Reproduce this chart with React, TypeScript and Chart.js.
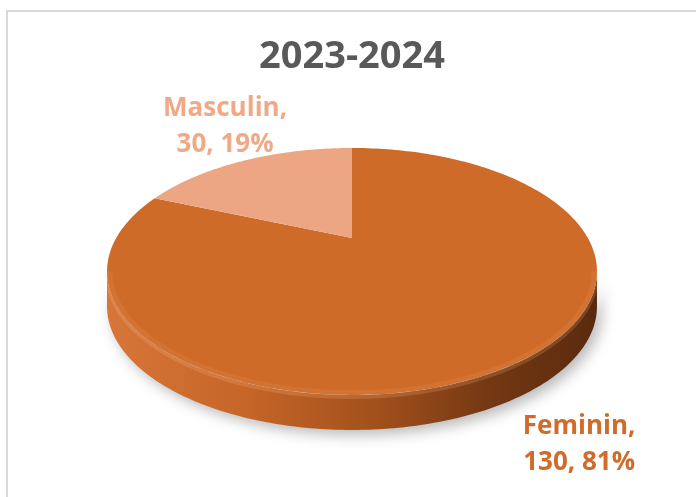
import React, { useEffect, useRef } from 'react';
import { Chart, registerables } from 'chart.js';

Chart.register(...registerables);

// ---- data ----
const categories = ['Feminin', 'Masculin'];
const counts = [130, 30];
const titleText = '2023-2024';

// ---- style ----
const sliceColors = ['#CF6B28', '#EDA684'];
const labelColors = ['#D06C2B', '#F0A987'];
const labelOffsets = [
  [58, 73],
  [-20, -44],
];

// 3D projection style (relative to the pie radius computed by Chart.js)
const A_RATIO = 1.589;
const B_RATIO = 0.771;
const DEPTH_RATIO = 0.236;
const PERSPECTIVE = 0.271;

function proj(cx: number, cy: number, A: number, B: number, ang: number, r = 1): [number, number] {
  const u = Math.cos(ang) * r;
  const v = Math.sin(ang) * r;
  const s = 1 / (1 - PERSPECTIVE * v);
  return [cx + A * u * s, cy + B * v * s];
}

export default function App() {
  const ref = useRef<HTMLCanvasElement>(null);

  useEffect(() => {
    const canvas = ref.current!;
    const total = counts.reduce((a, b) => a + b, 0);

    const pie3d = {
      id: 'pie3d',
      beforeDatasetsDraw(chart: any) {
        const meta = chart.getDatasetMeta(0);
        const arcs = meta.data as any[];
        if (!arcs.length) return;
        const ctx: CanvasRenderingContext2D = chart.ctx;
        const p0 = arcs[0].getProps(['x', 'y', 'outerRadius'], true);
        const cx = p0.x, cy = p0.y, R = p0.outerRadius;
        const A = R * A_RATIO, B = R * B_RATIO, D = R * DEPTH_RATIO;
        const kk = Math.asin(PERSPECTIVE);
        const frontStart = kk;
        const frontEnd = Math.PI - kk;
        const leftX = proj(cx, cy, A, B, frontEnd)[0];
        const rightX = proj(cx, cy, A, B, frontStart)[0];

        // sides
        arcs.forEach((arc) => {
          const p = arc.getProps(['startAngle', 'endAngle'], true);
          const s = p.startAngle, e = p.endAngle;
          const ranges: [number, number][] = [];
          for (const off of [-2 * Math.PI, 0, 2 * Math.PI]) {
            const a = Math.max(s + off, frontStart);
            const b = Math.min(e + off, frontEnd);
            if (b > a) ranges.push([a, b]);
          }
          ranges.forEach(([a, b]) => {
            const N = 160;
            const top: [number, number][] = [];
            for (let i = 0; i <= N; i++) top.push(proj(cx, cy, A, B, a + ((b - a) * i) / N));
            ctx.save();
            ctx.beginPath();
            top.forEach(([x, y], i) => (i ? ctx.lineTo(x, y) : ctx.moveTo(x, y)));
            for (let i = N; i >= 0; i--) ctx.lineTo(top[i][0], top[i][1] + D);
            ctx.closePath();
            const g = ctx.createLinearGradient(leftX, 0, rightX, 0);
            g.addColorStop(0, '#D8763A');
            g.addColorStop(0.3, '#C46427');
            g.addColorStop(0.55, '#A2501C');
            g.addColorStop(0.78, '#743813');
            g.addColorStop(1, '#5A2A0E');
            ctx.fillStyle = g;
            ctx.shadowColor = 'rgba(0,0,0,0.28)';
            ctx.shadowBlur = 14;
            ctx.shadowOffsetX = 5;
            ctx.shadowOffsetY = 5;
            ctx.fill();
            ctx.restore();
            // subtle highlight at top of side
            ctx.save();
            ctx.beginPath();
            top.forEach(([x, y], i) => (i ? ctx.lineTo(x, y + 2) : ctx.moveTo(x, y + 2)));
            ctx.strokeStyle = 'rgba(255,200,150,0.18)';
            ctx.lineWidth = 4;
            ctx.stroke();
            ctx.restore();
          });
        });

        // top faces
        arcs.forEach((arc, idx) => {
          const p = arc.getProps(['startAngle', 'endAngle'], true);
          const N = 240;
          ctx.save();
          ctx.beginPath();
          const c = proj(cx, cy, A, B, 0, 0);
          ctx.moveTo(c[0], c[1]);
          for (let i = 0; i <= N; i++) {
            const [x, y] = proj(cx, cy, A, B, p.startAngle + ((p.endAngle - p.startAngle) * i) / N);
            ctx.lineTo(x, y);
          }
          ctx.closePath();
          ctx.fillStyle = sliceColors[idx];
          ctx.fill();
          ctx.restore();
        });

        // rim bevel on front of top face
        ctx.save();
        ctx.beginPath();
        for (let i = 0; i <= 180; i++) {
          const ang = frontStart + ((frontEnd - frontStart) * i) / 180;
          const [x, y] = proj(cx, cy, A, B, ang, 0.99);
          i ? ctx.lineTo(x, y) : ctx.moveTo(x, y);
        }
        ctx.strokeStyle = 'rgba(255,220,190,0.08)';
        ctx.lineWidth = 5;
        ctx.stroke();
        ctx.restore();

        // labels
        arcs.forEach((arc, idx) => {
          const p = arc.getProps(['startAngle', 'endAngle'], true);
          const mid = (p.startAngle + p.endAngle) / 2;
          const [ax, ay] = proj(cx, cy, A, B, mid);
          const x = ax + labelOffsets[idx][0];
          const y = ay + labelOffsets[idx][1];
          const pct = Math.round((counts[idx] / total) * 100);
          ctx.save();
          ctx.font = 'bold 26px "Open Sans"';
          ctx.fillStyle = labelColors[idx];
          ctx.textAlign = 'center';
          ctx.textBaseline = 'alphabetic';
          ctx.fillText(categories[idx] + ',', x, y);
          ctx.fillText(counts[idx] + ', ' + pct + '%', x, y + 36);
          ctx.restore();
        });
        return false;
      },
    };

    const chart = new Chart(canvas, {
      type: 'pie',
      data: {
        labels: categories,
        datasets: [
          {
            data: counts,
            backgroundColor: sliceColors,
            borderWidth: 0,
          },
        ],
      },
      options: {
        responsive: false,
        animation: false,
        layout: { padding: { left: 8, right: 0, top: 0, bottom: 110.6 } },
        plugins: {
          legend: { display: false },
          tooltip: { enabled: false },
          title: {
            display: true,
            text: titleText,
            color: '#595959',
            font: { family: '"Open Sans"', size: 38, weight: 'bold' },
            padding: { top: 34, bottom: 10 },
          },
        },
      },
      plugins: [pie3d],
    });
    return () => chart.destroy();
  }, []);

  return (
    <div style={{ position: 'absolute', left: 0, top: 0, width: 696, height: 497, overflow: 'hidden', background: '#fff' }}>
      <div
        style={{
          position: 'absolute',
          left: 6,
          top: 10,
          width: 740,
          height: 540,
          border: '2px solid #D9D9D9',
          boxSizing: 'border-box',
        }}
      />
      <canvas ref={ref} width={696} height={497} style={{ position: 'absolute', left: 0, top: 0 }} />
    </div>
  );
}
